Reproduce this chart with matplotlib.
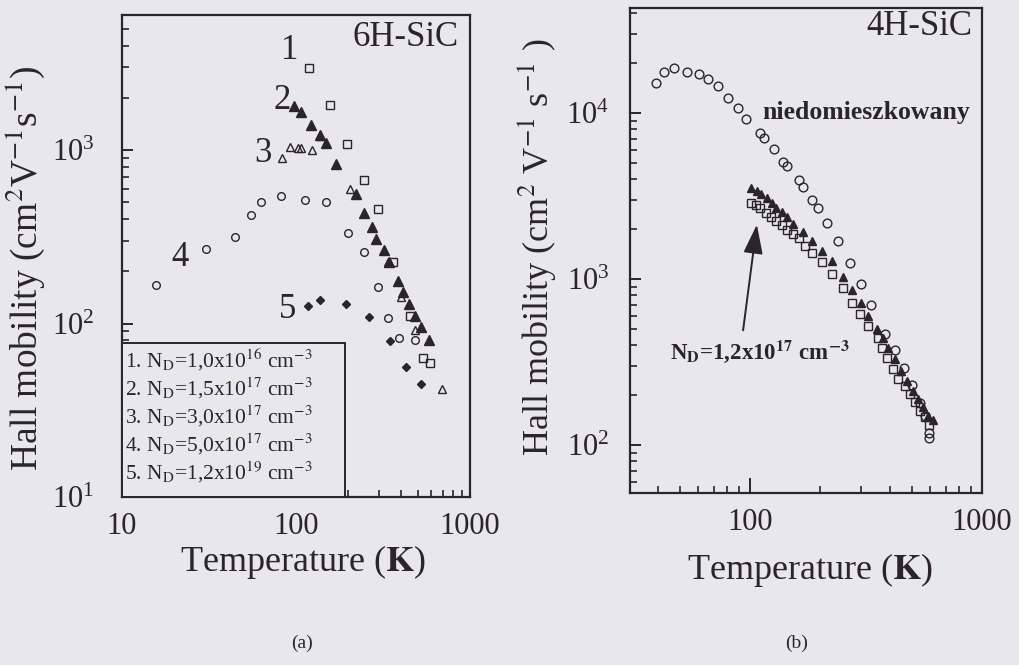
import matplotlib
matplotlib.use("Agg")
import matplotlib.pyplot as plt
from matplotlib.patches import Rectangle
from matplotlib.ticker import LogLocator, FixedLocator, FixedFormatter, NullFormatter

plt.rcParams['font.family'] = ['Liberation Serif', 'DejaVu Serif']
plt.rcParams['mathtext.fontset'] = 'stix'

BG = '#e8e8ea'
INK = '#2b2428'

# ---- 6H-SiC (panel a) ----
t1 = [118, 156, 197, 246, 294, 359, 449, 536, 586]
mu1 = [2990, 1820, 1080, 674, 460, 225, 111, 63, 59]

t2 = [97.7, 107, 122, 138, 149, 170, 220, 246, 273, 290, 320, 343, 384, 414, 445, 480, 525, 581]
mu2 = [1785, 1655, 1390, 1218, 1092, 828, 561, 435, 360, 306, 265, 225, 177, 152, 130, 111, 96, 80]

t3 = [83.6, 92.5, 102, 107, 124, 138, 204, 340, 401, 480, 690]
mu3 = [897, 1045, 1022, 1022, 1000, 1210, 598, 225, 142, 92, 42]

t4 = [15.7, 30.4, 44.8, 55, 62.8, 82, 112, 148, 199, 246, 294, 340, 389, 486]
mu4 = [167, 268, 317, 421, 502, 541, 518, 502, 334, 257, 162, 108, 83, 80]

t5 = [117, 138, 194, 261, 348, 429, 525]
mu5 = [127, 137, 130, 109, 79, 56, 45]

legend_lines = [
    "1. N$_\\mathrm{D}$=1,0x10$^{16}$ cm$^{-3}$",
    "2. N$_\\mathrm{D}$=1,5x10$^{17}$ cm$^{-3}$",
    "3. N$_\\mathrm{D}$=3,0x10$^{17}$ cm$^{-3}$",
    "4. N$_\\mathrm{D}$=5,0x10$^{17}$ cm$^{-3}$",
    "5. N$_\\mathrm{D}$=1,2x10$^{19}$ cm$^{-3}$",
]
curve_tags = ["1", "2", "3", "4", "5"]
tag_t = [92.5, 82.8, 64.6, 21.5, 90]
tag_mu = [3770, 1940, 961, 241, 120]

# ---- 4H-SiC (panel b) ----
t_und = [39.3, 42.6, 47.2, 53.4, 60.4, 66.1, 72.6, 80.2, 88.5, 96.1, 110, 115, 127, 139, 145,
         162, 170, 186, 196, 215, 239, 270, 300, 332, 382, 420, 460, 500, 540, 570, 593, 593]
mu_und = [15270, 17800, 18600, 17800, 17200, 16000, 14600, 12400, 10700, 9270, 7590, 7070, 6060,
          5100, 4800, 3960, 3610, 3000, 2700, 2190, 1700, 1250, 933, 700, 467, 375, 290, 230,
          180, 150, 119, 111]

t_sq = [100.7, 106, 111, 117, 123, 129, 137, 144, 153, 162, 173, 186, 204, 225, 251, 274, 298,
        324, 357, 370, 388, 415, 436, 466, 490, 514, 541, 568, 593]
mu_sq = [2890, 2800, 2680, 2520, 2370, 2240, 2120, 1970, 1870, 1770, 1590, 1430, 1260, 1070,
         883, 722, 615, 523, 444, 387, 337, 287, 250, 228, 203, 181, 161, 147, 132]

t_tri = [100.7, 107, 112, 118, 124, 130, 137, 144, 154, 170, 186, 204, 225, 251, 274, 300, 324,
         352, 376, 394, 422, 450, 473, 506, 532, 559, 587, 613]
mu_tri = [3560, 3400, 3250, 3080, 2890, 2700, 2550, 2370, 2140, 1910, 1700, 1480, 1280, 1030,
          858, 713, 601, 500, 444, 387, 330, 281, 244, 212, 189, 169, 150, 142]

fig = plt.figure(figsize=(10.2, 6.65), dpi=100)
fig.patch.set_facecolor(BG)

axa = fig.add_axes([0.1196, 0.2526, 0.3412, 0.7248])
axb = fig.add_axes([0.6176, 0.2586, 0.3451, 0.7293])

for ax in (axa, axb):
    ax.set_facecolor(BG)
    ax.set_xscale('log')
    ax.set_yscale('log')
    for s in ax.spines.values():
        s.set_color(INK)
        s.set_linewidth(1.6)
    ax.tick_params(which='both', direction='in', color=INK, labelcolor=INK,
                   top=False, right=False, labelsize=22)
    ax.tick_params(which='major', length=8, width=1.4)
    ax.tick_params(which='minor', length=5, width=1.2)

# panel a
axa.set_xlim(10, 1000)
axa.set_ylim(10, 6000)
axa.xaxis.set_major_locator(FixedLocator([10, 100, 1000]))
axa.xaxis.set_major_formatter(FixedFormatter(["10", "100", "1000"]))
axa.xaxis.set_minor_locator(LogLocator(base=10, subs=range(2, 10)))
axa.xaxis.set_minor_formatter(NullFormatter())
axa.tick_params(axis='x', which='major', pad=11)
axa.tick_params(axis='y', which='major', pad=20)

mk = dict(linestyle='none', color=INK, markeredgewidth=1.0)
axa.plot(t1, mu1, marker='s', markersize=6, markerfacecolor='none', **mk)
axa.plot(t3, mu3, marker='^', markersize=6, markerfacecolor='none', **mk)
axa.plot(t4, mu4, marker='o', markersize=5.5, markerfacecolor='none', **mk)
axa.plot(t2, mu2, marker='^', markersize=6.5, markerfacecolor=INK, **mk)
axa.plot(t5, mu5, marker='D', markersize=4.5, markerfacecolor=INK, **mk)

for tag, x, y in zip(curve_tags, tag_t, tag_mu):
    axa.text(x, y, tag, fontsize=25, color=INK, ha='center', va='center')

axa.text(0.966, 0.954, "6H-SiC", transform=axa.transAxes, fontsize=25, color=INK,
         ha='right', va='center')

# legend box drawn over the lower-left corner
box = Rectangle((0, 0), 0.641, 0.32, transform=axa.transAxes, facecolor=BG,
                edgecolor=INK, linewidth=1.4, zorder=5)
axa.add_patch(box)
for i, line in enumerate(legend_lines):
    axa.text(0.008, 0.284 - i * 0.058, line, transform=axa.transAxes, fontsize=15.5,
             color=INK, ha='left', va='center', zorder=6)

# panel b
axb.set_xlim(30.4, 1000)
axb.set_ylim(51.4, 43000)
axb.xaxis.set_major_locator(FixedLocator([100, 1000]))
axb.xaxis.set_major_formatter(FixedFormatter(["100", "1000"]))
axb.xaxis.set_minor_locator(LogLocator(base=10, subs=range(2, 10)))
axb.xaxis.set_minor_formatter(NullFormatter())
axb.tick_params(axis='x', which='major', pad=11, length=11)
axb.tick_params(axis='y', which='major', pad=15)

axb.plot(t_und, mu_und, marker='o', markersize=6.3, markerfacecolor='none', **mk)
axb.plot(t_sq, mu_sq, marker='s', markersize=6, markerfacecolor='none', **mk)
axb.plot(t_tri, mu_tri, marker='^', markersize=6.3, markerfacecolor=INK, **mk)

axb.text(0.972, 0.961, "4H-SiC", transform=axb.transAxes, fontsize=25, color=INK,
         ha='right', va='center')
axb.text(0.375, 0.784, "niedomieszkowany", transform=axb.transAxes, fontsize=18.5,
         fontweight='bold', color=INK, ha='left', va='center')
axb.annotate("", xy=(107.5, 2213), xytext=(93.1, 473),
             arrowprops=dict(arrowstyle='-|>,head_length=0.9,head_width=0.3', color=INK,
                             lw=1.4, mutation_scale=20))
axb.text(0.368, 0.291, "N$_\\mathbf{D}$=1,2x10$^{\\mathbf{17}}$ cm$^{\\mathbf{-3}}$",
         transform=axb.transAxes, fontsize=16.5, fontweight='bold', color=INK,
         ha='center', va='center')

# axis titles
fig.text(0.025, 1 - 268 / 665, "Hall mobility (cm$^2$V$^{-1}$s$^{-1}$)", rotation=90,
         fontsize=27, color=INK, ha='center', va='center')
fig.text(0.526, 1 - 247 / 665, "Hall mobility (cm$^2$ V$^{-1}$ s$^{-1}$ )", rotation=90,
         fontsize=26, color=INK, ha='center', va='center')
fig.text(0.297, 1 - 562 / 665, "Temperature ($\\mathbf{K}$)", fontsize=26, color=INK,
         ha='center', va='center')
fig.text(0.794, 1 - 570 / 665, "Temperature ($\\mathbf{K}$)", fontsize=26, color=INK,
         ha='center', va='center')
fig.text(0.296, 1 - 643 / 665, "(a)", fontsize=14, color=INK, ha='center', va='center')
fig.text(0.781, 1 - 643 / 665, "(b)", fontsize=14, color=INK, ha='center', va='center')

fig.savefig("out.png", dpi=100, facecolor=BG)
